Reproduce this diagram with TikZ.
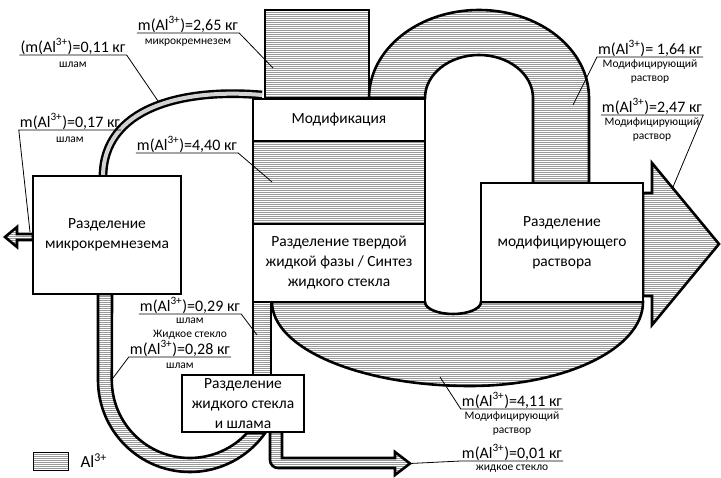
\documentclass[tikz,border=0pt]{standalone}
\usepackage{fontspec}
\setmainfont{Carlito}
\usetikzlibrary{patterns.meta,positioning}

\begin{document}
\begin{tikzpicture}[
  x=1pt, y=-1pt,
  line join=miter,
  hatch/.style={
    draw=black,
    line width=2.6pt,
    pattern={Lines[angle=0,distance=2pt,line width=0.45pt]},
    pattern color=gray!80
  },
  thinflow/.style={
    line width=2.4pt,
    double=gray!35,
    double distance=4pt
  },
  block/.style={
    draw=black,
    fill=white,
    line width=2.6pt,
    align=center,
    inner sep=0pt,
    font=\fontsize{15.5}{20}\selectfont
  },
  amount/.style={font=\fontsize{16}{18}\selectfont, inner xsep=1pt, inner ysep=0.5pt},
  stream/.style={font=\fontsize{11.5}{13.5}\selectfont, align=center, inner sep=0pt},
  leader/.style={draw=black, line width=0.8pt}
]
\useasboundingbox (0,0) rectangle (721,478);

\draw[thinflow] (103,177) .. controls (103,108) and (182,88) .. (262,95);

\path[hatch] (265,10) rectangle (369,98);
\path[hatch] (369,98) arc[start angle=180, end angle=360, x radius=110, y radius=88]
  -- (589,183) -- (533,183) -- (533,98)
  arc[start angle=0, end angle=-180, x radius=54, y radius=43] -- cycle;
\path[hatch] (253,141) rectangle (425,224);
\path[hatch] (272,302) -- (425,302)
  arc[start angle=180, end angle=0, x radius=28, y radius=12]
  -- (643,302)
  arc[start angle=0, end angle=90, x radius=173, y radius=84]
  arc[start angle=90, end angle=180, x radius=198, y radius=84] -- cycle;
\path[hatch] (643,193) -- (652,193) -- (652,163) -- (719,244) -- (652,325)
  -- (652,296) -- (643,296) -- cycle;
\path[hatch] (253,302) rectangle (271,375);
\path[hatch] (98,294) -- (98,380) arc[start angle=180, end angle=35.2, radius=92]
  -- (247,433) arc[start angle=42.8, end angle=180, radius=78] -- (112,294) -- cycle;
\path[hatch] (270,432) -- (270,460) arc[start angle=180, end angle=90, radius=8]
  -- (395,468) -- (395,475) -- (410,463.5) -- (395,452) -- (395,458)
  -- (282,458) -- (282,432) -- cycle;
\path[hatch] (33,234) -- (17,234) -- (17,227) -- (5,237) -- (17,247)
  -- (17,240) -- (33,240) -- cycle;

\node[block, minimum width=172pt, minimum height=42pt] (mod) at (339,120) {Модификация};
\node[block, minimum width=172pt, minimum height=78pt] (synth) at (339,263)
  {Разделение твердой\\жидкой фазы / Синтез\\жидкого стекла};
\node[block, minimum width=148pt, minimum height=118pt] (msep) at (107,235)
  {Разделение\\микрокремнезема};
\node[block, minimum width=162pt, minimum height=119pt] (rsep) at (562,242.5)
  {Разделение\\модифицирующего\\раствора};
\node[block, minimum width=122pt, minimum height=57pt] (gsep) at (243,403.5)
  {Разделение\\жидкого стекла\\и шлама};

\coordinate (p265) at (273,68);
\coordinate (p011) at (158,101);
\coordinate (p017) at (30,232);
\coordinate (p440) at (272,182);
\coordinate (p164) at (573,105);
\coordinate (p247) at (673,187);
\coordinate (p029) at (257,335);
\coordinate (p028) at (113,378);
\coordinate (p411) at (440,377);
\coordinate (p001) at (410,463.5);

\node[amount, anchor=south] (a265) at (188,33) {m(Al\textsuperscript{3+})=2,65 кг};
\node[stream, below=6pt of a265] (s265) {микрокремнезем};
\draw[leader] (a265.south west) -- (a265.south east) -- (p265);

\node[amount, anchor=south] (a011) at (73,55) {(m(Al\textsuperscript{3+})=0,11 кг};
\node[stream, below=7pt of a011] (s011) {шлам};
\draw[leader] (a011.south west) -- (a011.south east) -- (p011);

\node[amount, anchor=south] (a017) at (70,130) {m(Al\textsuperscript{3+})=0,17 кг};
\node[stream, below=7pt of a017] (s017) {шлам};
\draw[leader] (a017.south east) -- (a017.south west) -- (p017);

\node[amount, anchor=south] (a440) at (187,153) {m(Al\textsuperscript{3+})=4,40 кг};
\draw[leader] (a440.south west) -- (a440.south east) -- (p440);

\node[amount, anchor=south] (a164) at (650,57) {m(Al\textsuperscript{3+})= 1,64 кг};
\node[stream, below=3pt of a164] (s164) {Модифицирующий\\раствор};
\draw[leader] (a164.south east) -- (a164.south west) -- (p164);

\node[amount, anchor=south] (a247) at (652,115) {m(Al\textsuperscript{3+})=2,47 кг};
\node[stream, below=3pt of a247] (s247) {Модифицирующий\\раствор};
\draw[leader] (a247.south west) -- (a247.south east) -- (p247);

\node[amount, anchor=south] (a029) at (190,314) {m(Al\textsuperscript{3+})=0,29 кг};
\node[stream, below=4pt of a029] (s029) {шлам\\Жидкое стекло};
\draw[leader] (a029.south west) -- (a029.south east) -- (p029);

\node[amount, anchor=south] (a028) at (180,357) {m(Al\textsuperscript{3+})=0,28 кг};
\node[stream, below=6pt of a028] (s028) {шлам};
\draw[leader] (a028.south east) -- (a028.south west) -- (p028);

\node[amount, anchor=south] (a411) at (512,409) {m(Al\textsuperscript{3+})=4,11 кг};
\node[stream, below=3pt of a411] (s411) {Модифицирующий\\раствор};
\draw[leader] (a411.south east) -- (a411.south west) -- (p411);

\node[amount, anchor=south] (a001) at (512,461) {m(Al\textsuperscript{3+})=0,01 кг};
\node[stream, below=4pt of a001] (s001) {жидкое стекло};
\draw[leader] (a001.south east) -- (a001.south west) -- (p001);

\node[draw=black, line width=0.8pt, minimum width=35pt, minimum height=18pt,
  pattern={Lines[angle=0,distance=2pt,line width=0.45pt]}, pattern color=gray!80] (key) at (50.5,461) {};
\node[right=12pt of key, font=\fontsize{17}{20}\selectfont, inner sep=0pt] (keytext) {Al\textsuperscript{3+}};

\end{tikzpicture}
\end{document}
